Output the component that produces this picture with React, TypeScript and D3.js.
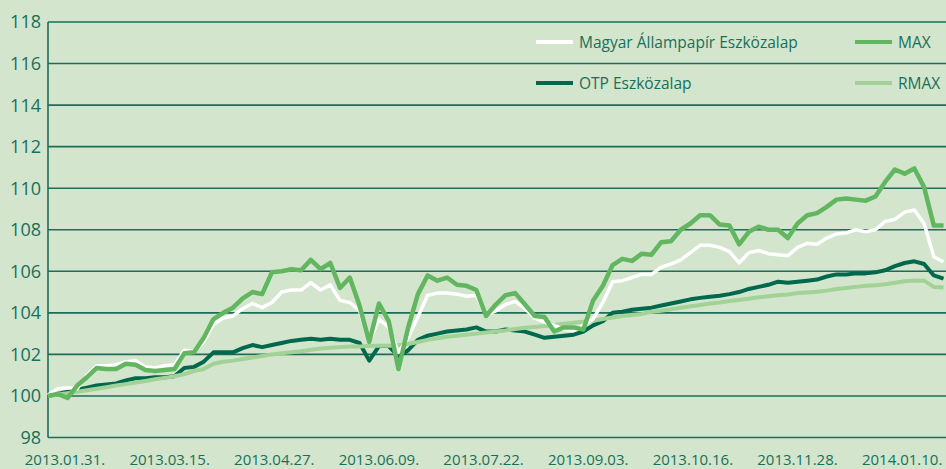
import React, { useEffect, useRef } from "react";
import * as d3 from "d3";

// Day offsets from 2013.01.31. (one sample every 4 days)
const dayOffsets = [
  0, 4, 8, 12, 16, 20, 24, 28, 32, 36, 40, 44, 48, 52, 56, 60, 64, 68, 72, 76,
  80, 84, 88, 92, 96, 100, 104, 108, 112, 116, 120, 124, 128, 132, 136, 140,
  144, 148, 152, 156, 160, 164, 168, 172, 176, 180, 184, 188, 192, 196, 200,
  204, 208, 212, 216, 220, 224, 228, 232, 236, 240, 244, 248, 252, 256, 260,
  264, 268, 272, 276, 280, 284, 288, 292, 296, 300, 304, 308, 312, 316, 320,
  324, 328, 332, 336, 340, 344, 348, 352, 356, 360, 364, 368,
];

const magyarValues = [
  100.05, 100.35, 100.4, 100.35, 101.0, 101.45, 101.45, 101.5, 101.65, 101.7,
  101.4, 101.35, 101.45, 101.5, 102.2, 102.15, 102.6, 103.45, 103.75, 103.85,
  104.2, 104.45, 104.25, 104.5, 105.0, 105.1, 105.1, 105.45, 105.1, 105.35,
  104.6, 104.5, 104.1, 102.6, 103.7, 103.3, 102.1, 102.8, 103.8, 104.85,
  104.95, 104.95, 104.9, 104.8, 104.85, 103.9, 104.1, 104.4, 104.55, 104.2,
  103.75, 103.55, 103.4, 103.2, 103.15, 103.4, 103.7, 104.5, 105.5, 105.55,
  105.7, 105.85, 105.85, 106.2, 106.35, 106.55, 106.9, 107.25, 107.25, 107.15,
  106.95, 106.4, 106.9, 107.0, 106.85, 106.8, 106.75, 107.15, 107.35, 107.3,
  107.6, 107.8, 107.85, 108.0, 107.9, 108.0, 108.4, 108.5, 108.85, 108.95,
  108.3, 106.7, 106.45,
];

const maxValues = [
  100.0, 100.1, 99.9, 100.5, 100.9, 101.35, 101.3, 101.3, 101.55, 101.5,
  101.25, 101.2, 101.25, 101.3, 102.05, 102.1, 102.8, 103.7, 104.0, 104.25,
  104.7, 105.0, 104.9, 105.95, 106.0, 106.1, 106.05, 106.55, 106.1, 106.4,
  105.2, 105.7, 104.35, 102.6, 104.45, 103.6, 101.3, 103.3, 104.9, 105.8,
  105.55, 105.7, 105.35, 105.3, 105.1, 103.85, 104.4, 104.85, 104.95, 104.4,
  103.85, 103.8, 103.1, 103.3, 103.3, 103.2, 104.6, 105.3, 106.3, 106.6,
  106.5, 106.85, 106.8, 107.4, 107.45, 108.0, 108.3, 108.7, 108.7, 108.25,
  108.2, 107.3, 107.9, 108.15, 108.0, 108.0, 107.6, 108.3, 108.7, 108.8,
  109.1, 109.45, 109.5, 109.45, 109.4, 109.6, 110.3, 110.9, 110.7, 110.95,
  110.05, 108.2, 108.2,
];

const otpValues = [
  100.0, 100.1, 100.2, 100.3, 100.4, 100.5, 100.55, 100.6, 100.75, 100.85,
  100.85, 100.9, 100.9, 100.95, 101.35, 101.4, 101.65, 102.1, 102.1, 102.1,
  102.3, 102.45, 102.35, 102.45, 102.55, 102.65, 102.7, 102.75, 102.7, 102.75,
  102.7, 102.7, 102.55, 101.7, 102.4, 102.4, 101.9, 102.2, 102.7, 102.9,
  103.0, 103.1, 103.15, 103.2, 103.3, 103.1, 103.1, 103.2, 103.15, 103.1,
  102.95, 102.8, 102.85, 102.9, 102.95, 103.1, 103.4, 103.6, 104.0, 104.05,
  104.15, 104.2, 104.25, 104.35, 104.45, 104.55, 104.65, 104.72, 104.78,
  104.82, 104.9, 105.0, 105.15, 105.25, 105.35, 105.5, 105.45, 105.5, 105.55,
  105.6, 105.75, 105.85, 105.85, 105.9, 105.9, 105.95, 106.05, 106.25, 106.4,
  106.48, 106.35, 105.8, 105.65,
];

const rmaxValues = [
  100.0, 100.07, 100.13, 100.2, 100.27, 100.35, 100.42, 100.5, 100.57, 100.65,
  100.72, 100.8, 100.87, 100.95, 101.05, 101.2, 101.3, 101.55, 101.65, 101.7,
  101.78, 101.85, 101.92, 102.0, 102.05, 102.1, 102.15, 102.22, 102.28, 102.32,
  102.35, 102.38, 102.38, 102.4, 102.42, 102.42, 102.44, 102.5, 102.6, 102.7,
  102.78, 102.85, 102.9, 102.95, 103.0, 103.05, 103.1, 103.15, 103.22, 103.28,
  103.32, 103.37, 103.42, 103.47, 103.52, 103.57, 103.62, 103.7, 103.78,
  103.85, 103.9, 103.95, 104.05, 104.1, 104.17, 104.25, 104.32, 104.38, 104.45,
  104.5, 104.57, 104.62, 104.68, 104.75, 104.8, 104.85, 104.88, 104.95, 104.98,
  105.02, 105.07, 105.15, 105.2, 105.25, 105.3, 105.33, 105.38, 105.45, 105.52,
  105.56, 105.55, 105.25, 105.22,
];

const tickLabels = [
  "2013.01.31.", "2013.03.15.", "2013.04.27.", "2013.06.09.", "2013.07.22.",
  "2013.09.03.", "2013.10.16.", "2013.11.28.", "2014.01.10.",
];

const yTicks = [98, 100, 102, 104, 106, 108, 110, 112, 114, 116, 118];

const seriesNames = ["Magyar Állampapír Eszközalap", "MAX", "OTP Eszközalap", "RMAX"];

const BG = "#d3e5cc";
const GRID = "#1d6d5a";
const TEXT = "#17705a";
const colors = {
  magyar: "#ffffff",
  max: "#62b660",
  otp: "#00684d",
  rmax: "#a2d296",
};

export default function App() {
  const ref = useRef<SVGSVGElement | null>(null);
  const width = 946;
  const height = 469;

  useEffect(() => {
    if (!ref.current) return;
    const svg = d3.select(ref.current);
    svg.selectAll("*").remove();

    const font = "'Open Sans', 'DejaVu Sans', sans-serif";
    const parse = d3.timeParse("%Y.%m.%d.");
    const start = parse("2013.01.31.") as Date;
    const dates = dayOffsets.map((d) => d3.timeDay.offset(start, d));

    const x = d3
      .scaleTime()
      .domain([start, d3.timeDay.offset(start, 369)])
      .range([48, width]);
    const y = d3.scaleLinear().domain([98, 118]).range([437.5, 22]);

    svg.append("rect").attr("width", width).attr("height", height).attr("fill", BG);

    // Gridlines
    svg
      .append("g")
      .selectAll("line")
      .data(yTicks)
      .enter()
      .append("line")
      .attr("x1", 48)
      .attr("x2", width)
      .attr("y1", (d) => y(d))
      .attr("y2", (d) => y(d))
      .attr("stroke", GRID)
      .attr("stroke-width", 1.6);

    svg
      .append("line")
      .attr("x1", 48)
      .attr("x2", 48)
      .attr("y1", y(118))
      .attr("y2", y(98))
      .attr("stroke", GRID)
      .attr("stroke-width", 1.6);

    // Y labels
    svg
      .append("g")
      .selectAll("text")
      .data(yTicks)
      .enter()
      .append("text")
      .attr("x", 41)
      .attr("y", (d) => y(d))
      .attr("dy", "0.36em")
      .attr("text-anchor", "end")
      .attr("fill", TEXT)
      .style("font-family", font)
      .style("font-size", "18px")
      .text((d) => d);

    // X labels
    svg
      .append("g")
      .selectAll("text")
      .data(tickLabels)
      .enter()
      .append("text")
      .attr("x", (d) => x(parse(d) as Date) + 17)
      .attr("y", 460)
      .attr("dy", "0.36em")
      .attr("text-anchor", "middle")
      .attr("fill", TEXT)
      .style("font-family", font)
      .style("font-size", "15px")
      .text((d) => d);

    const line = d3
      .line<number>()
      .x((_, i) => x(dates[i]))
      .y((d) => y(d));

    const series = [
      { values: otpValues, color: colors.otp, w: 4 },
      { values: rmaxValues, color: colors.rmax, w: 4 },
      { values: magyarValues, color: colors.magyar, w: 3.5 },
      { values: maxValues, color: colors.max, w: 4.5 },
    ];

    svg
      .append("g")
      .selectAll("path")
      .data(series)
      .enter()
      .append("path")
      .attr("d", (d) => line(d.values))
      .attr("fill", "none")
      .attr("stroke", (d) => d.color)
      .attr("stroke-width", (d) => d.w)
      .attr("stroke-linejoin", "round");

    // Legend
    const legend = [
      { name: seriesNames[0], color: colors.magyar, lx: 536, ly: 42 },
      { name: seriesNames[1], color: colors.max, lx: 855, ly: 42 },
      { name: seriesNames[2], color: colors.otp, lx: 536, ly: 83 },
      { name: seriesNames[3], color: colors.rmax, lx: 855, ly: 83 },
    ];
    const lg = svg.append("g").selectAll("g").data(legend).enter().append("g");
    lg.append("line")
      .attr("x1", (d) => d.lx)
      .attr("x2", (d) => d.lx + 37)
      .attr("y1", (d) => d.ly)
      .attr("y2", (d) => d.ly)
      .attr("stroke", (d) => d.color)
      .attr("stroke-width", 4);
    lg.append("text")
      .attr("x", (d) => d.lx + 43)
      .attr("y", (d) => d.ly)
      .attr("dy", "0.36em")
      .attr("fill", TEXT)
      .style("font-family", font)
      .style("font-size", "15.5px")
      .text((d) => d.name);
  }, []);

  return (
    <div style={{ position: "fixed", left: 0, top: 0, width, height, background: BG }}>
      <svg ref={ref} width={width} height={height} style={{ display: "block" }} />
    </div>
  );
}
